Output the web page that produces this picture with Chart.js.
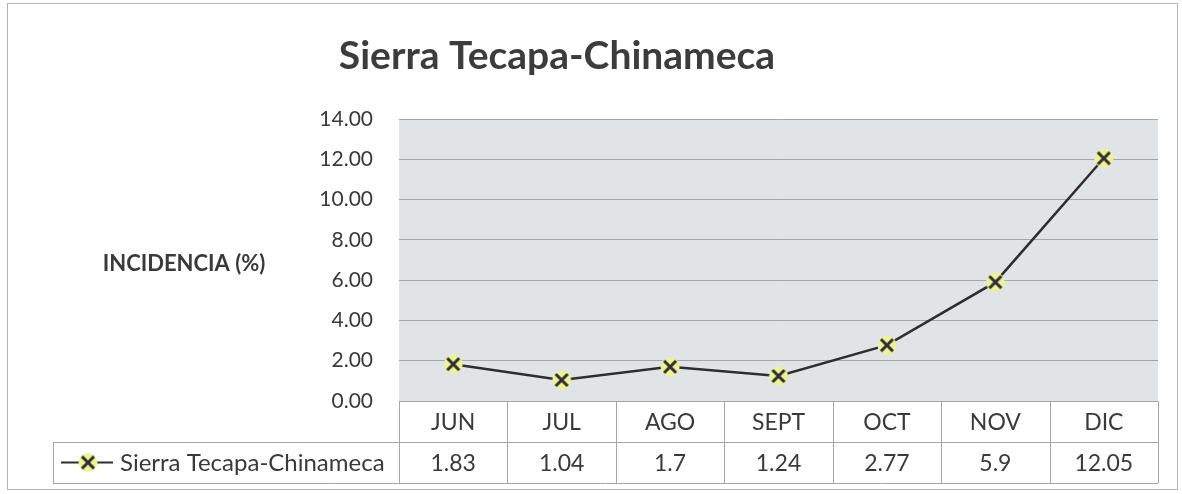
<!DOCTYPE html>
<html>
<head>
<meta charset="utf-8">
<script src="https://cdn.jsdelivr.net/npm/chart.js@4.4.1/dist/chart.umd.min.js"></script>
<style>
  html, body { margin: 0; padding: 0; background: #fff; }
  #wrap { width: 1182px; height: 494px; }
</style>
</head>
<body>
<div id="wrap"><canvas id="incidenciaChart" width="1182" height="494"></canvas></div>
<script>
// Chart data
const months = ['JUN', 'JUL', 'AGO', 'SEPT', 'OCT', 'NOV', 'DIC'];
const incidencia = [1.83, 1.04, 1.7, 1.24, 2.77, 5.9, 12.05];
const yTicks = [0, 2, 4, 6, 8, 10, 12, 14];
const seriesName = 'Sierra Tecapa-Chinameca';
const chartTitle = 'Sierra Tecapa-Chinameca';
const yTitle = 'INCIDENCIA (%)';

const FONT = 'Lato, "Open Sans", sans-serif';
const TEXT = '#3a3a3a';
const LINE_GREY = '#a6a6a6';

// marker: dark X on a pale yellow dot
function makeMarker() {
    const c = document.createElement('canvas');
    c.width = 22; c.height = 22;
    const g = c.getContext('2d');
    g.fillStyle = '#eef19a';
    g.beginPath();
    g.arc(11, 11, 9.5, 0, Math.PI * 2);
    g.fill();
    g.strokeStyle = '#2e2e2e';
    g.lineWidth = 3;
    g.beginPath();
    g.moveTo(5, 5); g.lineTo(17, 17);
    g.moveTo(17, 5); g.lineTo(5, 17);
    g.stroke();
    return c;
}
const marker = makeMarker();

// background, frame and plot area fill
const backdrop = {
    id: 'backdrop',
    beforeDraw(chart) {
        const { ctx, chartArea: a } = chart;
        ctx.save();
        ctx.fillStyle = '#fff';
        ctx.fillRect(0, 0, chart.width, chart.height);
        ctx.strokeStyle = '#b5b5b5';
        ctx.lineWidth = 1;
        ctx.strokeRect(7.5, 3.5, 1170, 486);
        ctx.fillStyle = '#e1e4e6';
        ctx.fillRect(a.left, a.top, a.right - a.left, a.bottom - a.top);
        ctx.restore();
    }
};

// title, axis title and the data table under the plot
const decorations = {
    id: 'decorations',
    afterDraw(chart) {
        const { ctx, chartArea: a } = chart;
        const x = chart.scales.x;
        const colW = (a.right - a.left) / months.length;
        const rowTop = a.bottom, rowMid = a.bottom + 41, rowBot = a.bottom + 82;
        const legendLeft = 53;

        ctx.save();
        ctx.fillStyle = '#3c3c3c';
        ctx.font = 'bold 39px ' + FONT;
        ctx.textAlign = 'center';
        ctx.textBaseline = 'middle';
        ctx.fillText(chartTitle, 557, 56);

        ctx.font = 'bold 22px ' + FONT;
        ctx.fillStyle = TEXT;
        ctx.fillText(yTitle, 184, 264);

        // table grid
        ctx.strokeStyle = LINE_GREY;
        ctx.lineWidth = 1;
        ctx.beginPath();
        ctx.moveTo(a.left, rowTop + 0.5); ctx.lineTo(a.right, rowTop + 0.5);
        ctx.moveTo(legendLeft, rowMid + 0.5); ctx.lineTo(a.right, rowMid + 0.5);
        ctx.moveTo(legendLeft, rowBot + 0.5); ctx.lineTo(a.right, rowBot + 0.5);
        ctx.moveTo(legendLeft + 0.5, rowMid); ctx.lineTo(legendLeft + 0.5, rowBot);
        for (let i = 0; i <= months.length; i++) {
            const px = Math.round(a.left + i * colW) + 0.5;
            ctx.moveTo(px, rowTop); ctx.lineTo(px, rowBot);
        }
        ctx.stroke();

        // table text
        ctx.font = '23px ' + FONT;
        ctx.fillStyle = TEXT;
        ctx.textAlign = 'center';
        months.forEach((m, i) => {
            const cx = x.getPixelForValue(i);
            ctx.fillText(m, cx, (rowTop + rowMid) / 2 + 1);
            ctx.fillText(String(incidencia[i]), cx, (rowMid + rowBot) / 2 + 1);
        });

        // legend key in the table
        const ly = (rowMid + rowBot) / 2;
        ctx.strokeStyle = '#2e2e2e';
        ctx.lineWidth = 2;
        ctx.beginPath();
        ctx.moveTo(61, ly); ctx.lineTo(113, ly);
        ctx.stroke();
        ctx.drawImage(marker, 88 - 11, ly - 11);
        ctx.font = '24px ' + FONT;
        ctx.textAlign = 'left';
        ctx.fillText(seriesName, 120, ly + 1);
        ctx.restore();
    }
};

function initChart() {
    const ctx = document.getElementById('incidenciaChart').getContext('2d');
    new Chart(ctx, {
        type: 'line',
        data: {
            labels: months,
            datasets: [{
                label: seriesName,
                data: incidencia,
                borderColor: '#2e2e2e',
                borderWidth: 2.5,
                tension: 0,
                pointStyle: marker,
                pointRadius: 11,
                pointHoverRadius: 11
            }]
        },
        options: {
            responsive: false,
            animation: false,
            layout: { padding: { top: 119, bottom: 93, right: 24, left: 0 } },
            plugins: {
                legend: { display: false },
                title: { display: false },
                tooltip: { enabled: false }
            },
            scales: {
                x: {
                    type: 'category',
                    offset: true,
                    display: false
                },
                y: {
                    min: 0,
                    max: 14,
                    afterBuildTicks: scale => { scale.ticks = yTicks.map(v => ({ value: v })); },
                    afterFit: scale => { scale.width = 399; },
                    border: { display: false },
                    grid: { color: LINE_GREY, lineWidth: 1, drawTicks: false },
                    ticks: {
                        padding: 26,
                        color: TEXT,
                        font: { family: FONT, size: 21 },
                        callback: v => Number(v).toFixed(2)
                    }
                }
            }
        },
        plugins: [backdrop, decorations]
    });
}

document.fonts.load('21px Lato').then(() => document.fonts.load('bold 39px Lato')).then(initChart, initChart);
</script>
</body>
</html>
